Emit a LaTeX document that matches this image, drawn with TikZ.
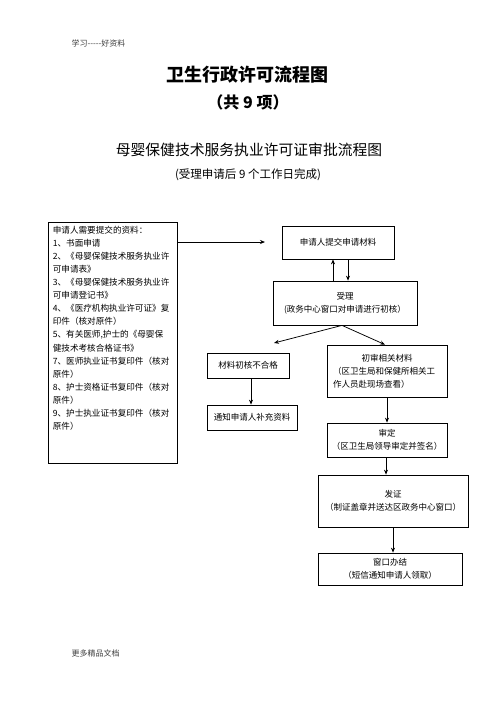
\documentclass[tikz,border=0pt]{standalone}
\usepackage{fontspec}
\setmainfont{Noto Sans CJK SC}
\usetikzlibrary{arrows.meta,calc}
\begin{document}
\begin{tikzpicture}[x=1pt,y=-1pt,
  box/.style={draw,line width=0.75pt,rectangle,inner sep=0pt,font=\fontsize{8.5}{13}\selectfont,align=center},
  arr/.style={-{Stealth[length=5pt,width=4pt]},line width=0.75pt},
  small/.style={font=\fontsize{8}{10}\selectfont,text=black!75}]
\useasboundingbox (0,0) rectangle (496,702);
\fill[white] (0,0) rectangle (496,702);
\node[small,anchor=west] (hdr) at (68,43) {学习-{}-{}-{}-{}-好资料};
\node[font=\fontsize{18}{22}\selectfont\bfseries] (title) at (247,75) {卫生行政许可流程图};
\node[font=\fontsize{16}{20}\selectfont\bfseries] (count) at (248,102) {（共 9 项）};
\node[font=\fontsize{14.8}{18}\selectfont] (sub) at (249,150) {母婴保健技术服务执业许可证审批流程图};
\node[font=\fontsize{11.5}{14}\selectfont] (sub2) at (248,175) {(受理申请后 9 个工作日完成)};
% left box
\node[box,minimum width=129,minimum height=241] (req) at (112.5,342.5) {};
\node[anchor=north west,inner sep=0pt,align=left,font=\fontsize{8.6}{13.1}\selectfont] (reqtext) at ([xshift=5pt,yshift=-4pt]req.north west)
 {申请人需要提交的资料：\\
  1、书面申请\\
  2、《母婴保健技术服务执业许\\
  可申请表》\\
  3、《母婴保健技术服务执业许\\
  可申请登记书》\\
  4、《医疗机构执业许可证》复\\
  印件（核对原件）\\
  5、有关医师,护士的《母婴保\\
  健技术考核合格证书》\\
  7、医师执业证书复印件（核对\\
  原件）\\
  8、护士资格证书复印件（核对\\
  原件）\\
  9、护士执业证书复印件（核对\\
  原件）};
\node[box,minimum width=112,minimum height=33] (submit) at (338,242.5) {申请人提交申请材料};
\node[box,minimum width=144,minimum height=44] (shouli) at (345,303) {受理\\(政务中心窗口对申请进行初核）};
\node[box,minimum width=82,minimum height=25] (fail) at (248,365.5) {材料初核不合格};
\node[box,minimum width=90,minimum height=25] (notify) at (252,417.5) {通知申请人补充资料};
\node[box,minimum width=120,minimum height=52,align=left] (chu) at (387,371) {\makebox[108pt][c]{初审相关材料}\\（区卫生局和保健所相关工\\作人员赴现场查看）};
\node[box,minimum width=120,minimum height=34] (shending) at (387,440) {审定\\（区卫生局领导审定并签名）};
\node[box,minimum width=150,minimum height=52] (fazheng) at (393,501) {发证\\（制证盖章并送达区政务中心窗口）};
\node[box,minimum width=144,minimum height=32] (banjie) at (390,569) {窗口办结\\（短信通知申请人领取）};
\node[small,anchor=west] (ftr) at (68,653) {更多精品文档};
% connectors
\coordinate (harr) at (265,242);
\coordinate (fl) at (274,343);
\draw[arr] (req.east |- harr) -- (harr);
\draw[arr] ([xshift=-12pt]shouli.north) -- ([xshift=-12pt]shouli.north |- submit.south);
\draw[arr] ([xshift=3pt]shouli.north |- submit.south) -- ([xshift=3pt]shouli.north);
\draw[arr] ([xshift=-3pt]shouli.south) -- (fl);
\draw[arr] ([xshift=-3pt]shouli.south) -- ([xshift=-2pt]chu.north);
\draw[arr] ([xshift=3pt]fail.south) -- ([xshift=3pt]fail.south |- notify.north);
\draw[arr] (chu.south) -- (shending.north);
\draw[arr] ([xshift=-1pt]shending.south) -- ([xshift=-1pt]shending.south |- fazheng.north);
\draw[arr] (fazheng.south) -- (fazheng.south |- banjie.north);
\end{tikzpicture}
\end{document}
